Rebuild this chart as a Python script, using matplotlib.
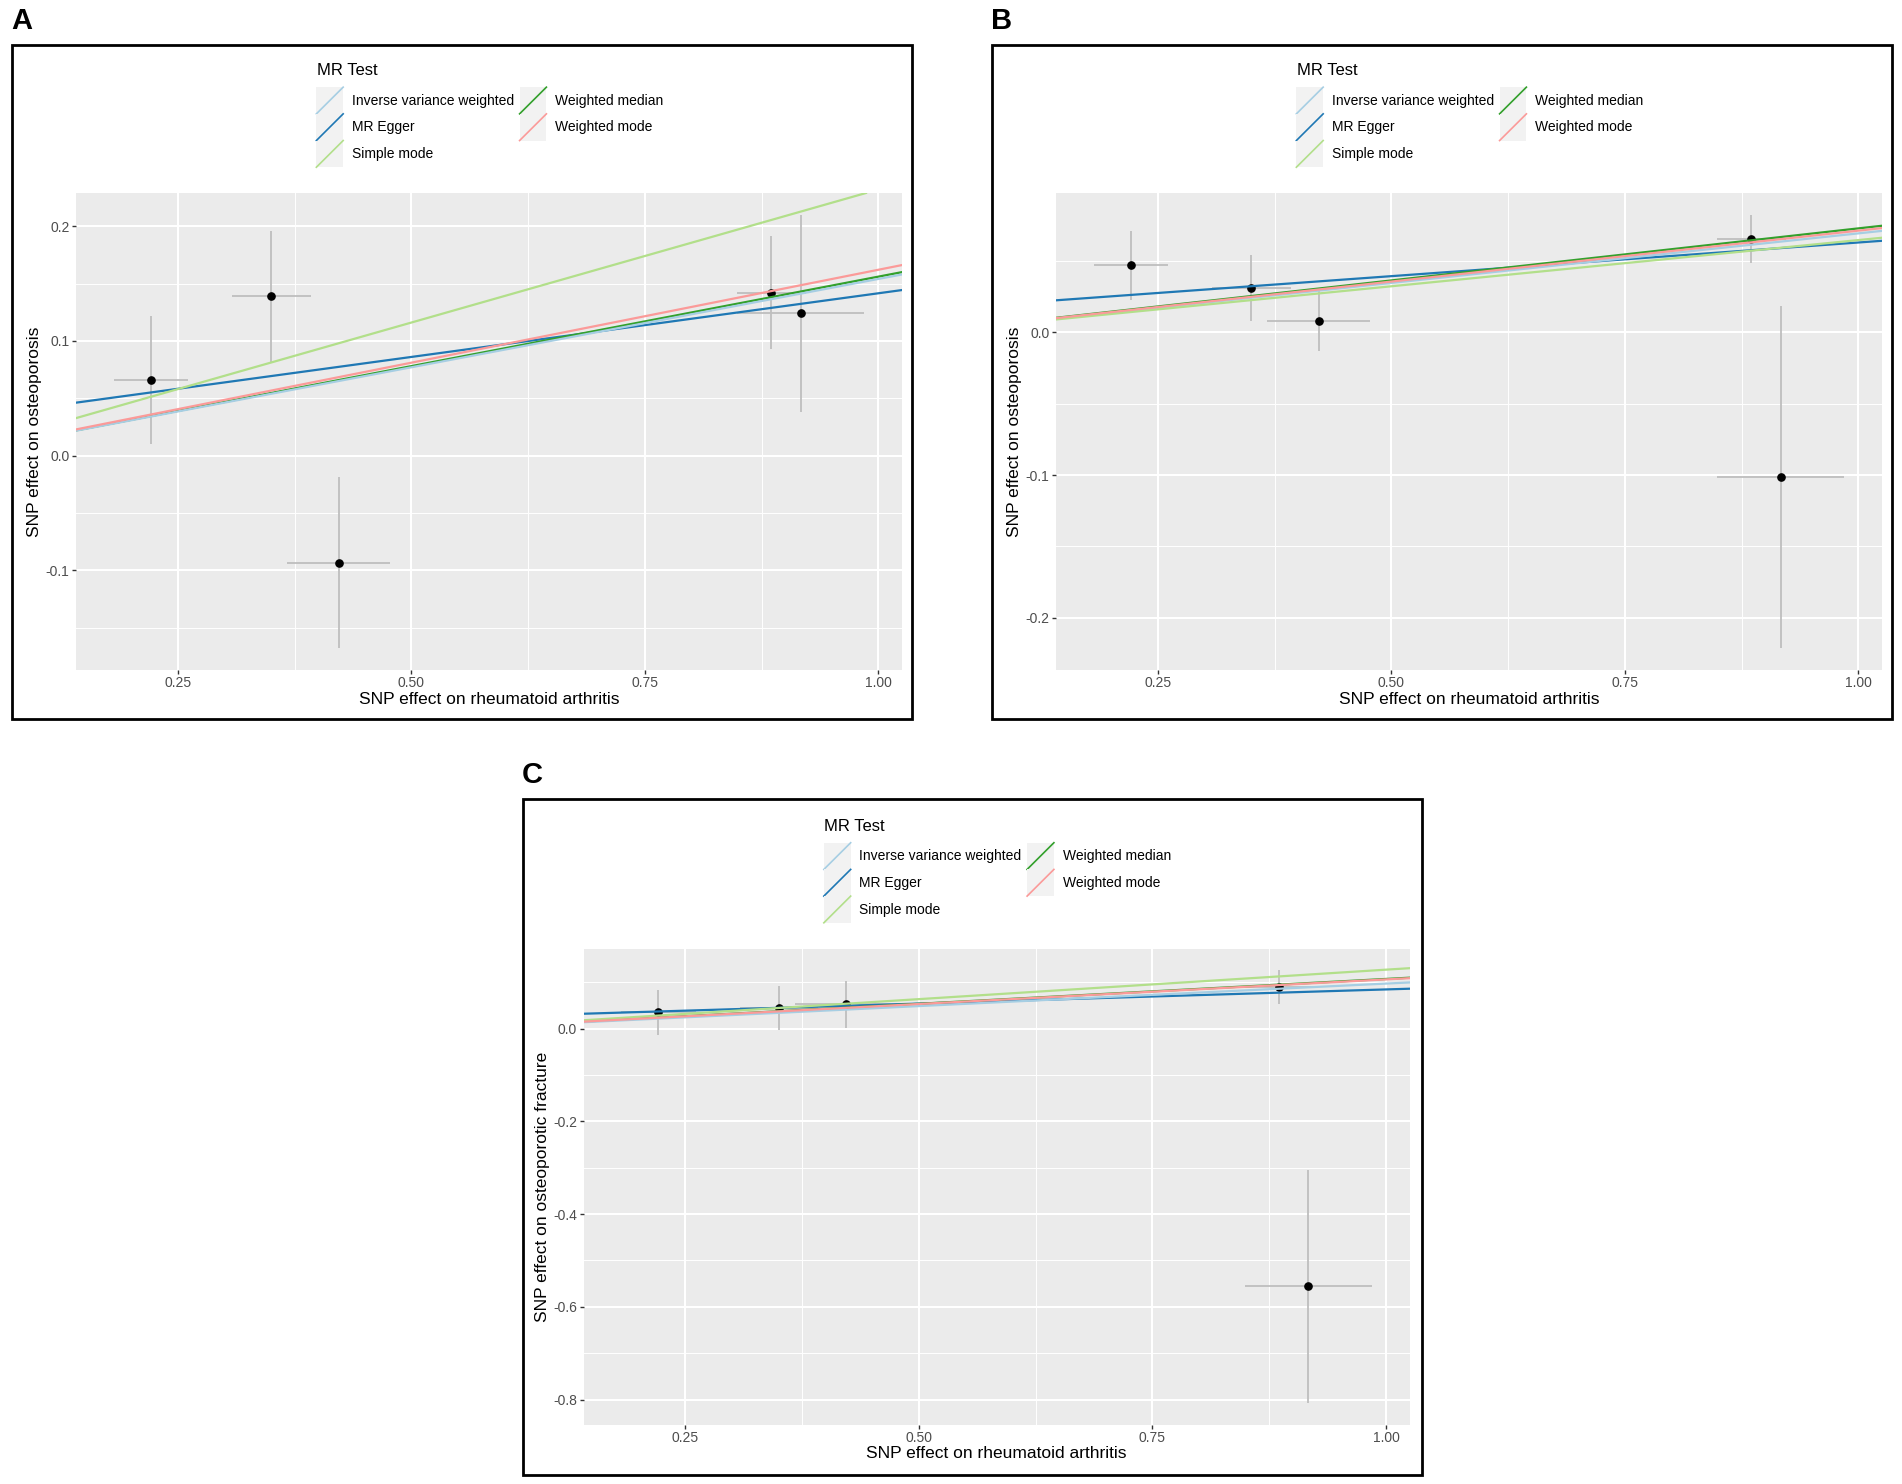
"""
MR scatter plots: SNP effect on rheumatoid arthritis vs. effect on
osteoporosis (A, B) and osteoporotic fracture (C), with MR fit lines.
"""

import numpy as np
import matplotlib
matplotlib.use("Agg")
import matplotlib.pyplot as plt
from matplotlib.lines import Line2D
from matplotlib.patches import Rectangle
from matplotlib.legend_handler import HandlerBase
from matplotlib.ticker import FixedLocator, FixedFormatter, AutoMinorLocator

plt.rcParams["font.family"] = ["Liberation Sans", "DejaVu Sans"]
plt.rcParams["axes.unicode_minus"] = False

W, H = 1902, 1484

# ---- data -------------------------------------------------------------
METHODS = ["Inverse variance weighted", "MR Egger", "Simple mode",
           "Weighted median", "Weighted mode"]
METHOD_COLORS = ["#A6CEE3", "#1F78B4", "#B2DF8A", "#33A02C", "#FB9A99"]
# order in which ggplot stacked the fit lines
DRAW_ORDER = ["MR Egger", "Weighted median", "Inverse variance weighted",
              "Simple mode", "Weighted mode"]

X_LABEL = "SNP effect on rheumatoid arthritis"
x_ticks = [0.25, 0.50, 0.75, 1.00]
x_tick_labels = ["0.25", "0.50", "0.75", "1.00"]

# exposure (same SNPs in every panel)
snp_beta_exp = [0.221, 0.350, 0.422, 0.885, 0.917]
snp_se_exp = [0.040, 0.042, 0.055, 0.037, 0.068]

# panel A - osteoporosis
a_beta_out = [0.066, 0.139, -0.0935, 0.142, 0.124]
a_se_out = [0.056, 0.057, 0.0745, 0.049, 0.086]
a_intercept = [0.0, 0.0305, 0.0, 0.0, 0.0]
a_slope = [0.154, 0.111, 0.232, 0.156, 0.162]
a_yticks = [-0.1, 0.0, 0.1, 0.2]
a_ytick_labels = ["-0.1", "0.0", "0.1", "0.2"]
a_ylabel = "SNP effect on osteoporosis"

# panel B - osteoporosis (second outcome source)
b_beta_out = [0.047, 0.031, 0.008, 0.0656, -0.1015]
b_se_out = [0.024, 0.023, 0.021, 0.017, 0.120]
b_intercept = [0.0, 0.0159, 0.0, 0.0, 0.0]
b_slope = [0.0695, 0.0472, 0.0648, 0.0730, 0.0714]
b_yticks = [-0.2, -0.1, 0.0]
b_ytick_labels = ["-0.2", "-0.1", "0.0"]
b_ylabel = "SNP effect on osteoporosis"

# panel C - osteoporotic fracture
c_beta_out = [0.035, 0.045, 0.052, 0.090, -0.556]
c_se_out = [0.049, 0.047, 0.050, 0.036, 0.251]
c_intercept = [0.0, 0.0234, 0.0, 0.0, 0.0]
c_slope = [0.097, 0.061, 0.127, 0.107, 0.106]
c_yticks = [-0.8, -0.6, -0.4, -0.2, 0.0]
c_ytick_labels = ["-0.8", "-0.6", "-0.4", "-0.2", "0.0"]
c_ylabel = "SNP effect on osteoporotic fracture"


class KeyHandler(HandlerBase):
    """ggplot-like legend key: grey square with a diagonal line."""

    def create_artists(self, legend, orig_handle, xdescent, ydescent,
                       width, height, fontsize, trans):
        bg = Rectangle((-xdescent, -ydescent), width, height,
                       facecolor="#f2f2f2", edgecolor="none", transform=trans)
        line = Line2D([-xdescent, -xdescent + width],
                      [-ydescent, -ydescent + height],
                      color=orig_handle.get_color(), lw=1.2, transform=trans)
        return [bg, line]


def px_rect(left, top, right, bottom):
    return [left / W, 1 - bottom / H, (right - left) / W, (bottom - top) / H]


def expanded(lo, hi, frac=0.05):
    pad = (hi - lo) * frac
    return lo - pad, hi + pad


def draw_panel(fig, rect, beta_out, se_out, intercepts, slopes,
               yticks, ytick_labels, ylabel):
    ax = fig.add_axes(rect)
    ax.set_facecolor("#ebebeb")
    ax.set_axisbelow(True)
    for s in ax.spines.values():
        s.set_visible(False)

    bx = np.array(snp_beta_exp)
    bxs = np.array(snp_se_exp)
    by = np.array(beta_out)
    bys = np.array(se_out)

    ax.errorbar(bx, by, yerr=bys, fmt="none", ecolor="#bebebe",
                elinewidth=1.3, capsize=0, zorder=2)
    ax.errorbar(bx, by, xerr=bxs, fmt="none", ecolor="#bebebe",
                elinewidth=1.3, capsize=0, zorder=2)
    ax.plot(bx, by, "o", color="black", ms=5.2, zorder=3)

    for name in DRAW_ORDER:
        i = METHODS.index(name)
        ax.axline((0, intercepts[i]), slope=slopes[i],
                  color=METHOD_COLORS[i], lw=1.6, zorder=4)

    ax.set_xlim(*expanded((bx - bxs).min(), (bx + bxs).max()))
    ax.set_ylim(*expanded((by - bys).min(), (by + bys).max()))

    ax.xaxis.set_major_locator(FixedLocator(x_ticks))
    ax.xaxis.set_major_formatter(FixedFormatter(x_tick_labels))
    ax.yaxis.set_major_locator(FixedLocator(yticks))
    ax.yaxis.set_major_formatter(FixedFormatter(ytick_labels))
    ax.xaxis.set_minor_locator(AutoMinorLocator(2))
    ax.yaxis.set_minor_locator(AutoMinorLocator(2))

    ax.grid(which="major", color="white", lw=1.45)
    ax.grid(which="minor", color="white", lw=0.7)
    ax.tick_params(which="major", length=2.6, width=1.0, color="#333333",
                   labelcolor="#4d4d4d", labelsize=10, pad=2)
    ax.tick_params(which="minor", length=0)

    ax.set_xlabel(X_LABEL, fontsize=12.5, labelpad=1)
    ax.set_ylabel(ylabel, fontsize=12.5, labelpad=2.5)

    handles = [Line2D([], [], color=c) for c in METHOD_COLORS]
    ax.legend(handles, METHODS, ncol=2, loc="lower left",
              bbox_to_anchor=(0.291, 1.054), borderaxespad=0, borderpad=0,
              frameon=False, fontsize=10, handlelength=1.93,
              handleheight=2.58, handletextpad=0.63, columnspacing=0.4,
              labelspacing=0, handler_map={Line2D: KeyHandler()})
    ax.text(0.2915, 1.256, "MR Test", transform=ax.transAxes,
            fontsize=12, ha="left", va="center")
    return ax


fig = plt.figure(figsize=(W / 100, H / 100), dpi=100)

draw_panel(fig, px_rect(76, 193, 902, 670), a_beta_out, a_se_out,
           a_intercept, a_slope, a_yticks, a_ytick_labels, a_ylabel)
draw_panel(fig, px_rect(1056, 193, 1882, 670), b_beta_out, b_se_out,
           b_intercept, b_slope, b_yticks, b_ytick_labels, b_ylabel)
draw_panel(fig, px_rect(583.5, 948.5, 1409.5, 1424.5), c_beta_out, c_se_out,
           c_intercept, c_slope, c_yticks, c_ytick_labels, c_ylabel)

# panel frames and letters
for (x0, y0, x1, y1), letter in [((12, 45, 912, 719), "A"),
                                 ((992, 45, 1892, 719), "B"),
                                 ((523, 799, 1422, 1475), "C")]:
    fig.add_artist(Rectangle((x0 / W, 1 - y1 / H), (x1 - x0) / W,
                             (y1 - y0) / H, transform=fig.transFigure,
                             fill=False, edgecolor="black", lw=2.0))
    fig.text((x0 - 1) / W, 1 - (y0 - 16) / H, letter, fontsize=21,
             fontweight="bold", ha="left", va="baseline")

fig.savefig("out.png", dpi=100)
plt.close(fig)
